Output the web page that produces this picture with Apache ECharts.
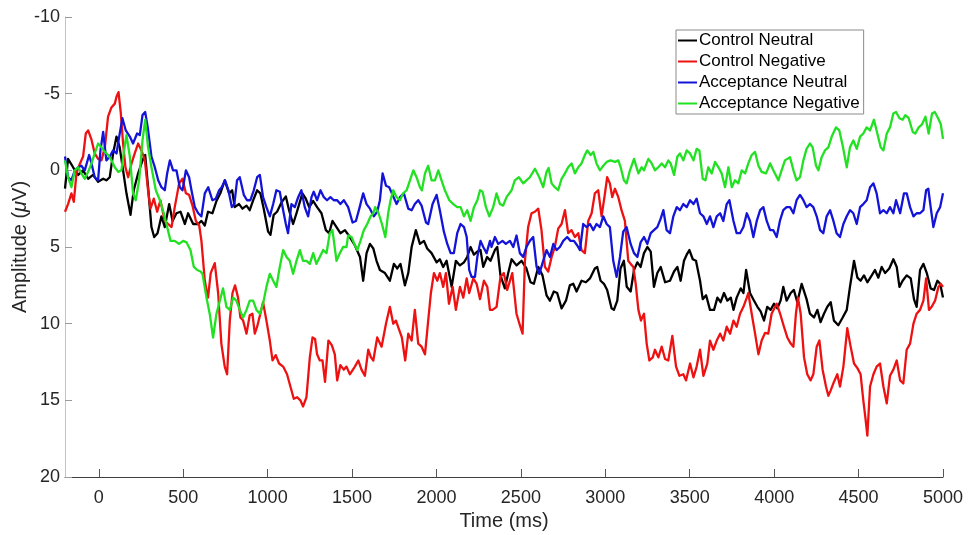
<!DOCTYPE html>
<html>
<head>
<meta charset="utf-8">
<title>ERP amplitude by condition</title>
<script src="https://cdn.jsdelivr.net/npm/echarts@6/dist/echarts.min.js"></script>
<style>
  html, body { margin: 0; padding: 0; background: #ffffff; }
  #chart { width: 969px; height: 535px; }
</style>
</head>
<body>
<div id="chart"></div>
<script>
// Grand-average waveforms: [time (ms), amplitude (µV)]
const controlNeutral = [
  [-200,1.2],[-182,-0.75],[-152,-0.2],[-122,0.3],[-93,0],[-63,0.55],[-34,0.3],[-4,0.75],[26,0.55],[45,0.65],
  [65,0.45],[85,-1.1],[105,-2.2],[124,-1.5],[144,0],[164,1.5],[188,2.9],[207,1.3],[233,0.2],[259,-0.65],
  [275,-1.0],[292,1.1],[312,3.7],[328,4.35],[348,4.1],[371,3.0],[391,3.7],[417,2.2],[437,3.3],[460,2.8],
  [484,2.7],[510,3.5],[529,2.8],[559,3.5],[589,3.5],[608,3.3],[628,3.6],[647,2.7],[673,2.8],[697,2.0],
  [720,1.5],[746,0.65],[772,1.5],[790,1.3],[805,2.4],[831,2.2],[851,2.5],[875,2.3],[894,2.6],[918,1.85],
  [938,1.3],[957,1.5],[977,2.5],[1003,4.0],[1017,4.2],[1036,2.9],[1056,2.7],[1082,2.1],[1108,1.7],[1127,2.6],
  [1151,3.5],[1171,2.8],[1187,2.2],[1206,1.5],[1226,1.85],[1246,2.4],[1270,2.0],[1293,2.4],[1319,2.8],[1345,3.9],
  [1364,4.1],[1384,3.3],[1408,3.7],[1431,4.1],[1458,3.9],[1487,4.35],[1517,4.9],[1547,5.65],[1566,7.2],[1586,5.4],
  [1606,4.8],[1626,5.1],[1645,5.9],[1665,6.5],[1695,6.7],[1724,7.2],[1748,6.1],[1768,6.4],[1787,6.1],[1813,7.5],
  [1833,6.7],[1853,5.0],[1878,3.9],[1902,4.8],[1926,4.6],[1945,5.1],[1971,5.4],[2001,6.0],[2020,5.8],[2040,6.3],
  [2060,5.9],[2090,7.6],[2115,5.9],[2139,6.2],[2163,6.0],[2182,5.65],[2202,5.0],[2222,5.5],[2242,5.3],[2261,5.2],
  [2277,6.3],[2300,5.65],[2320,5.9],[2346,5.2],[2360,5.0],[2379,6.85],[2405,7.7],[2425,6.7],[2445,5.8],[2474,6.2],
  [2504,5.9],[2533,6.4],[2557,7.3],[2577,7.4],[2603,6.3],[2628,6.85],[2652,8.15],[2672,8.5],[2695,7.9],[2715,8.0],
  [2741,9.0],[2767,8.5],[2790,7.5],[2810,7.4],[2830,7.9],[2859,7.2],[2885,7.3],[2909,7.05],[2938,6.4],[2952,6.3],
  [2972,7.2],[2992,7.4],[3011,7.8],[3037,9.0],[3051,9.1],[3071,8.5],[3090,6.4],[3110,5.9],[3127,7.6],[3150,7.9],
  [3170,6.5],[3190,6.0],[3209,6.3],[3229,5.4],[3249,5.0],[3269,5.3],[3288,7.6],[3308,6.7],[3328,6.3],[3354,7.3],
  [3383,7.2],[3407,6.6],[3427,6.3],[3446,7.2],[3466,5.9],[3482,5.5],[3498,5.2],[3518,5.8],[3537,5.9],[3561,7.2],
  [3577,8.4],[3597,8.15],[3620,9.1],[3644,9.1],[3664,8.3],[3683,8.6],[3703,8.0],[3723,8.5],[3743,8.3],[3759,9.1],
  [3778,8.3],[3802,7.7],[3818,8.0],[3834,6.5],[3857,8.0],[3881,8.5],[3901,8.9],[3920,9.2],[3940,9.8],[3959,8.9],
  [3979,9.1],[3999,8.7],[4019,9.0],[4038,8.5],[4054,7.6],[4074,8.5],[4098,8.0],[4117,7.8],[4137,8.6],[4163,7.4],
  [4192,8.4],[4212,9.35],[4236,9.6],[4256,9.1],[4275,9.9],[4295,9.35],[4315,8.9],[4335,8.6],[4354,9.8],[4380,10.1],
  [4406,9.6],[4430,9.1],[4449,7.6],[4473,5.9],[4493,7.0],[4512,7.2],[4532,6.85],[4552,7.3],[4578,6.85],[4597,6.5],
  [4617,7.0],[4637,6.3],[4657,6.7],[4682,6.4],[4706,5.8],[4726,6.3],[4742,7.6],[4761,7.2],[4785,6.85],[4809,7.05],
  [4828,8.4],[4844,8.9],[4864,6.5],[4884,6.1],[4904,6.7],[4927,7.7],[4947,7.8],[4967,7.2],[4983,7.4],[5000,8.3]
];

const controlNegative = [
  [-200,2.7],[-182,2.2],[-162,1.5],[-148,2.05],[-132,0.2],[-113,-0.4],[-93,-0.9],[-77,-2.4],[-63,-2.6],[-43,-2.0],
  [-24,-1.1],[-4,-0.75],[16,-0.65],[36,-1.5],[55,-3.5],[75,-4.1],[95,-4.35],[105,-4.8],[117,-5.1],[130,-3.8],
  [144,-1.75],[158,-0.2],[174,0.45],[194,-0.45],[213,-1.1],[233,-1.75],[253,-1.3],[273,-0.65],[292,1.3],[306,2.5],
  [326,1.85],[346,2.7],[365,1.95],[391,3.3],[411,3.5],[431,3.7],[450,2.4],[476,0.85],[496,0.55],[516,1.5],
  [535,1.6],[555,2.3],[575,3.3],[595,3.6],[608,4.6],[628,7.2],[647,8.3],[663,6.7],[687,6.05],[707,8.0],
  [726,11.3],[746,12.8],[760,13.3],[776,9.8],[792,8.0],[807,7.5],[825,8.3],[839,9.6],[855,9.8],[875,10.65],
  [894,9.45],[910,9.35],[924,10.65],[938,10.2],[957,9.35],[973,8.6],[993,9.8],[1013,11.1],[1029,12.4],[1048,12.05],
  [1068,12.6],[1092,12.8],[1115,13.3],[1135,14.1],[1155,14.9],[1175,14.8],[1194,15.0],[1210,15.4],[1230,14.8],[1250,12.2],
  [1266,10.9],[1281,11.0],[1293,12.0],[1309,12.4],[1325,12.4],[1340,13.8],[1360,11.1],[1380,11.4],[1398,12.0],[1412,13.7],
  [1431,12.7],[1451,13.0],[1467,12.8],[1487,13.3],[1517,12.8],[1537,12.4],[1556,13.0],[1576,13.4],[1596,11.7],[1612,12.2],
  [1626,12.4],[1649,10.9],[1675,11.5],[1701,10.0],[1724,8.9],[1744,10.0],[1760,9.8],[1776,10.3],[1795,10.9],[1815,12.4],
  [1833,10.65],[1853,11.1],[1872,9.1],[1892,11.3],[1912,11.5],[1932,12.0],[1951,9.8],[1967,8.0],[1985,6.7],[2005,7.2],
  [2020,6.7],[2040,7.6],[2056,6.7],[2074,8.7],[2096,7.6],[2115,9.1],[2139,7.6],[2159,8.3],[2179,7.05],[2194,8.0],
  [2218,7.05],[2238,7.4],[2258,8.4],[2281,7.2],[2301,7.6],[2317,9.1],[2332,9.1],[2356,8.9],[2379,6.95],[2399,6.7],
  [2419,7.8],[2449,6.7],[2474,9.35],[2494,10.1],[2510,10.65],[2524,5.9],[2543,3.7],[2563,2.8],[2583,2.7],[2603,2.5],
  [2622,3.9],[2642,6.3],[2662,6.6],[2682,5.65],[2701,5.0],[2721,3.8],[2741,3.5],[2761,2.6],[2780,4.1],[2800,3.9],
  [2820,4.35],[2840,4.1],[2859,5.2],[2879,5.4],[2899,3.3],[2919,2.8],[2938,1.5],[2958,1.3],[2978,3.0],[2998,1.5],
  [3011,0.45],[3027,0.85],[3041,1.75],[3057,1.2],[3077,1.75],[3096,2.6],[3116,3.3],[3136,5.9],[3150,6.1],[3166,6.3],
  [3180,7.4],[3196,9.1],[3211,9.8],[3229,9.35],[3245,11.3],[3261,12.4],[3281,12.2],[3294,11.7],[3314,12.2],[3334,11.5],
  [3354,12.3],[3373,12.4],[3397,10.8],[3419,12.8],[3439,13.4],[3462,13.3],[3478,13.7],[3502,12.6],[3522,13.5],[3541,12.8],
  [3561,11.7],[3581,13.4],[3604,12.6],[3620,11.1],[3640,11.7],[3660,11.1],[3680,10.65],[3699,11.1],[3719,10.2],[3739,10.65],
  [3759,9.8],[3778,10.2],[3798,9.35],[3818,8.9],[3838,8.3],[3847,8.0],[3867,9.35],[3887,10.65],[3907,12.0],[3926,11.1],
  [3946,10.6],[3965,10.65],[3985,9.35],[4015,8.7],[4038,9.45],[4058,10.2],[4078,10.9],[4098,11.3],[4114,11.5],[4129,9.35],
  [4141,8.3],[4157,9.35],[4177,12.2],[4196,13.3],[4216,13.7],[4232,13.3],[4252,11.5],[4268,11.1],[4287,13.0],[4307,14.1],
  [4321,14.7],[4335,14.35],[4354,13.8],[4374,13.3],[4390,14.1],[4410,12.8],[4433,10.3],[4453,11.5],[4473,12.6],[4493,12.9],
  [4512,13.3],[4528,15.0],[4540,16.1],[4552,17.3],[4568,14.1],[4588,13.3],[4607,12.8],[4627,12.6],[4647,14.1],[4667,15.2],
  [4686,13.4],[4706,13.0],[4726,12.4],[4746,13.7],[4765,13.9],[4785,11.7],[4805,11.3],[4825,10.0],[4844,9.35],[4864,9.1],
  [4884,8.5],[4900,7.05],[4917,9.1],[4933,8.9],[4953,8.5],[4973,7.6],[4987,7.4],[5000,7.6]
];

const acceptanceNeutral = [
  [-200,-0.9],[-182,0.45],[-162,0.65],[-142,0],[-122,-0.2],[-103,-0.3],[-83,0],[-57,-1.0],[-43,-0.45],[-24,0.45],
  [-4,0.65],[10,-1.3],[26,-2.5],[45,-0.65],[65,-0.9],[85,-1.3],[105,-1.1],[121,-2.2],[140,-3.4],[160,-2.6],
  [184,-2.2],[203,-1.75],[227,-2.4],[243,-2.3],[259,-3.6],[275,-3.8],[290,-2.8],[312,-0.9],[332,-0.2],[352,0.65],
  [371,1.1],[391,1.3],[405,0.2],[421,-0.65],[440,0],[460,0],[480,1.1],[496,1.3],[516,0],[535,0.45],
  [549,1.3],[569,2.4],[589,2.8],[608,3.0],[628,1.5],[648,1.1],[673,1.95],[693,1.85],[713,1.3],[728,1.1],
  [748,0.65],[768,1.3],[788,2.4],[803,2.2],[819,0.65],[835,0.45],[859,1.6],[878,1.95],[898,1.95],[918,1.3],
  [938,0.45],[954,0.3],[973,1.75],[993,2.4],[1013,3.0],[1033,2.2],[1052,1.3],[1072,1.4],[1092,2.6],[1108,3.5],
  [1121,4.1],[1141,2.2],[1161,2.4],[1181,1.75],[1200,1.3],[1220,2.4],[1240,3.0],[1260,1.75],[1273,1.4],[1293,1.95],
  [1313,1.3],[1333,1.75],[1352,1.95],[1372,1.75],[1392,1.95],[1412,1.95],[1431,2.2],[1451,1.95],[1477,2.4],[1503,3.4],
  [1523,3.3],[1543,2.5],[1566,1.5],[1586,2.2],[1606,2.5],[1629,3.0],[1649,2.7],[1665,1.95],[1681,0.2],[1701,1.0],
  [1720,1.1],[1740,1.6],[1764,2.2],[1784,1.75],[1807,1.5],[1833,2.5],[1853,2.6],[1872,2.2],[1892,1.95],[1912,2.3],
  [1938,3.4],[1951,3.5],[1977,2.2],[2001,1.6],[2020,2.6],[2044,4.0],[2064,4.8],[2084,5.4],[2103,5.4],[2123,4.1],
  [2143,3.5],[2163,3.7],[2179,4.35],[2194,6.5],[2208,6.95],[2228,6.95],[2242,5.65],[2261,4.6],[2277,5.0],[2297,5.4],
  [2317,4.6],[2326,5.0],[2346,4.35],[2366,4.8],[2391,4.6],[2411,4.8],[2435,4.6],[2455,5.0],[2474,4.25],[2494,5.4],
  [2514,5.65],[2533,5.0],[2553,4.6],[2573,4.35],[2593,6.3],[2609,6.75],[2632,5.9],[2652,5.2],[2672,5.65],[2692,4.8],
  [2711,5.2],[2731,5.0],[2751,4.6],[2774,4.35],[2794,4.6],[2814,4.6],[2834,4.9],[2850,5.2],[2869,3.5],[2889,3.7],
  [2909,3.5],[2929,3.9],[2948,3.5],[2968,3.7],[2988,3.0],[3008,3.5],[3027,3.7],[3047,5.9],[3067,6.95],[3087,5.65],
  [3106,4.0],[3126,3.7],[3150,4.8],[3170,5.4],[3190,5.65],[3209,4.7],[3229,4.35],[3249,4.8],[3269,4.1],[3288,3.9],
  [3308,3.7],[3328,3.15],[3344,2.6],[3363,3.9],[3383,4.1],[3403,3.0],[3423,2.4],[3442,2.6],[3462,2.2],[3482,2.4],
  [3502,1.95],[3522,2.2],[3541,1.85],[3561,2.8],[3581,3.0],[3601,3.5],[3620,3.0],[3640,3.7],[3660,3.0],[3680,2.8],
  [3699,3.3],[3719,2.2],[3735,1.95],[3759,3.3],[3778,4.1],[3798,4.1],[3818,3.7],[3838,2.8],[3857,3.3],[3877,4.35],
  [3897,3.3],[3917,2.6],[3936,2.4],[3956,3.3],[3976,3.9],[3995,3.9],[4015,4.35],[4034,3.3],[4054,2.6],[4074,2.4],
  [4094,2.4],[4114,2.8],[4133,1.95],[4153,1.6],[4173,1.95],[4192,2.4],[4212,2.2],[4232,2.4],[4252,3.0],[4272,3.9],
  [4291,4.1],[4311,3.0],[4331,2.6],[4351,3.3],[4370,4.1],[4390,4.35],[4410,3.5],[4430,3.0],[4449,2.6],[4469,2.8],
  [4489,3.5],[4509,2.4],[4528,2.2],[4548,1.95],[4568,1.1],[4588,0.85],[4607,1.5],[4627,2.8],[4647,2.6],[4667,2.8],
  [4686,2.4],[4706,2.8],[4722,1.95],[4746,2.8],[4769,1.5],[4785,1.5],[4805,2.4],[4825,3.0],[4844,2.8],[4864,2.8],
  [4884,2.6],[4900,1.3],[4913,1.2],[4927,2.4],[4943,3.7],[4963,2.8],[4983,2.4],[5000,1.5]
];

const acceptanceNegative = [
  [-200,-0.65],[-182,0.45],[-162,1.1],[-142,0],[-122,-0.2],[-103,0.2],[-83,0.55],[-63,0.1],[-43,-0.45],[-24,-1.1],
  [-4,-1.75],[16,-1.5],[36,-1.2],[55,-1.0],[75,-0.65],[95,-0.2],[115,0.1],[134,0],[150,-1.3],[164,-2.3],
  [184,-0.9],[203,1.5],[219,1.95],[239,0.65],[259,-1.95],[275,-3.3],[292,-1.5],[312,-0.2],[338,1.3],[362,1.95],
  [385,2.8],[405,3.7],[425,4.6],[450,4.6],[476,4.8],[500,4.6],[520,4.7],[543,5.2],[563,6.3],[583,6.5],
  [603,6.6],[614,6.75],[638,8.3],[657,9.35],[677,10.9],[697,9.35],[717,8.5],[736,7.7],[756,8.9],[776,9.1],
  [796,8.3],[815,8.5],[835,9.1],[855,9.6],[875,9.1],[894,8.5],[914,8.5],[934,9.1],[954,9.35],[973,8.7],
  [993,7.6],[1013,6.75],[1033,7.2],[1052,7.6],[1072,6.3],[1092,5.2],[1112,5.65],[1131,5.9],[1151,6.75],[1171,5.9],
  [1191,5.2],[1210,5.9],[1230,5.9],[1250,6.1],[1270,5.4],[1289,6.1],[1309,5.65],[1329,5.2],[1349,5.4],[1368,4.1],
  [1384,3.9],[1408,5.9],[1428,5.4],[1447,5.0],[1467,5.0],[1477,4.25],[1497,4.35],[1517,4.9],[1531,5.2],[1550,4.6],
  [1570,3.9],[1590,3.5],[1610,3.0],[1626,2.8],[1637,2.4],[1657,2.8],[1677,3.5],[1697,4.35],[1714,2.8],[1728,1.95],
  [1744,1.3],[1764,1.75],[1784,1.95],[1803,1.5],[1823,1.3],[1843,0.65],[1863,0],[1882,0.45],[1902,1.1],[1914,1.3],
  [1932,0.2],[1951,-0.3],[1971,0.65],[1991,0.65],[2011,0],[2030,0.65],[2050,1.3],[2076,1.95],[2100,2.2],[2123,2.4],
  [2143,2.4],[2163,3.0],[2182,2.6],[2202,3.3],[2222,2.4],[2242,1.95],[2258,1.3],[2273,1.4],[2293,2.4],[2313,3.0],
  [2336,2.4],[2356,1.5],[2376,2.2],[2395,2.3],[2415,1.75],[2445,1.3],[2464,0.65],[2488,0.45],[2514,0.85],[2533,0.65],
  [2553,0.45],[2583,-0.1],[2609,0.45],[2632,1.1],[2652,0.1],[2664,-0.15],[2682,0.85],[2701,1.1],[2721,1.3],[2741,0.55],
  [2761,0.2],[2780,-0.2],[2800,-0.45],[2820,0.2],[2840,-0.2],[2859,-0.45],[2879,-1.0],[2893,-1.3],[2913,-1.0],[2929,-1.2],
  [2948,-0.45],[2968,0],[2988,-0.3],[3008,-0.55],[3031,-0.65],[3057,-0.55],[3077,-0.65],[3091,-0.2],[3110,0.65],[3126,0.85],
  [3146,0],[3170,-0.75],[3196,0.2],[3215,-0.2],[3229,0],[3255,-0.75],[3275,-0.45],[3294,0],[3314,-0.2],[3334,-0.45],
  [3354,-0.2],[3373,-0.65],[3387,-0.45],[3407,0.3],[3427,-0.9],[3442,-1.1],[3462,-0.65],[3482,-1.3],[3502,-1.1],[3522,-0.65],
  [3541,-1.4],[3557,-1.3],[3577,0.55],[3593,0.65],[3610,-0.2],[3630,0.2],[3650,-0.55],[3670,-0.2],[3689,0.2],[3709,1.1],
  [3729,-0.2],[3749,1.1],[3768,0.65],[3788,0.85],[3808,0],[3828,0.2],[3847,-0.45],[3867,-1.0],[3887,-1.2],[3907,-0.3],
  [3926,0.1],[3952,0.2],[3976,-0.45],[3995,0],[4025,0.65],[4044,0],[4064,-0.65],[4094,-0.85],[4114,0],[4133,0.65],
  [4153,0.45],[4173,-0.65],[4192,-1.4],[4212,-1.75],[4228,-1.5],[4248,-0.3],[4262,0],[4281,-0.85],[4301,-1.3],[4321,-1.5],
  [4341,-2.2],[4366,-2.8],[4386,-2.6],[4406,-1.6],[4430,-0.2],[4449,-1.5],[4469,-1.95],[4489,-1.4],[4509,-2.2],[4528,-2.4],
  [4548,-2.8],[4568,-2.6],[4591,-3.3],[4611,-2.4],[4631,-1.5],[4647,-1.3],[4667,-2.4],[4686,-2.8],[4706,-3.7],[4722,-3.8],
  [4742,-3.4],[4761,-3.3],[4777,-3.6],[4797,-3.4],[4821,-2.5],[4836,-2.4],[4856,-2.8],[4876,-3.0],[4896,-3.5],[4915,-2.4],
  [4935,-3.7],[4951,-3.8],[4971,-3.4],[4987,-3.0],[5000,-2.05]
];

const seriesNames = ['Control Neutral', 'Control Negative', 'Acceptance Neutral', 'Acceptance Negative'];
const seriesColors = ['#000000', '#ee1111', '#1414d8', '#22e022'];
const timeTicks = [0, 500, 1000, 1500, 2000, 2500, 3000, 3500, 4000, 4500, 5000];
const amplitudeTicks = [-10, -5, 0, 5, 10, 15, 20];

const chart = echarts.init(document.getElementById('chart'), null, { renderer: 'canvas' });

const axisTextColor = '#262626';
const baseFont = 'Liberation Sans, Arial, Helvetica, sans-serif';

const dataSets = [controlNeutral, controlNegative, acceptanceNeutral, acceptanceNegative];

chart.setOption({
  animation: false,
  backgroundColor: '#ffffff',
  textStyle: { fontFamily: baseFont },
  grid: { left: 65, right: 26, top: 17, bottom: 58, containLabel: false, outerBoundsMode: 'none' },
  legend: {
    orient: 'vertical',
    left: 676,
    top: 30,
    data: seriesNames,
    icon: 'rect',
    itemWidth: 19,
    itemHeight: 2,
    itemGap: 4,
    padding: [2, 4, 2, 2],
    borderColor: '#8a8a8a',
    borderWidth: 1,
    backgroundColor: '#ffffff',
    textStyle: { fontFamily: baseFont, fontSize: 17, color: '#000000', lineHeight: 17, padding: [0, 0, 0, -3] }
  },
  xAxis: {
    type: 'value',
    min: -200,
    max: 5000,
    name: 'Time (ms)',
    nameLocation: 'middle',
    nameGap: 34,
    nameMoveOverlap: false,
    nameTextStyle: { fontFamily: baseFont, fontSize: 20, color: axisTextColor },
    axisLine: { show: true, onZero: false, lineStyle: { color: '#404040', width: 1 } },
    axisTick: { show: true, inside: true, length: 8, customValues: timeTicks, lineStyle: { color: '#555555' } },
    axisLabel: {
      customValues: timeTicks,
      formatter: (v) => String(v),
      fontFamily: baseFont, fontSize: 18, color: axisTextColor, margin: 12
    },
    splitLine: { show: false }
  },
  yAxis: {
    type: 'value',
    inverse: true,
    min: -10,
    max: 20,
    interval: 5,
    name: 'Amplitude ({mu|μ}V)',
    nameLocation: 'middle',
    nameGap: 35,
    nameMoveOverlap: false,
    nameTextStyle: {
      fontFamily: baseFont, fontSize: 20, color: axisTextColor,
      rich: { mu: { fontFamily: baseFont, fontSize: 20, fontStyle: 'italic', color: axisTextColor } }
    },
    axisLine: { show: true, onZero: false, lineStyle: { color: '#c4c4c4', width: 1 } },
    axisTick: { show: true, inside: true, length: 7, customValues: amplitudeTicks, lineStyle: { color: '#9a9a9a' } },
    axisLabel: {
      customValues: amplitudeTicks,
      formatter: (v) => String(v),
      fontFamily: baseFont, fontSize: 18, color: axisTextColor, margin: 5
    },
    splitLine: { show: false }
  },
  series: seriesNames.map((name, i) => ({
    name,
    type: 'line',
    data: dataSets[i],
    showSymbol: false,
    symbol: 'none',
    smooth: false,
    color: seriesColors[i],
    lineStyle: { color: seriesColors[i], width: 2.3, join: 'round' },
    emphasis: { disabled: true }
  }))
});
</script>
</body>
</html>
